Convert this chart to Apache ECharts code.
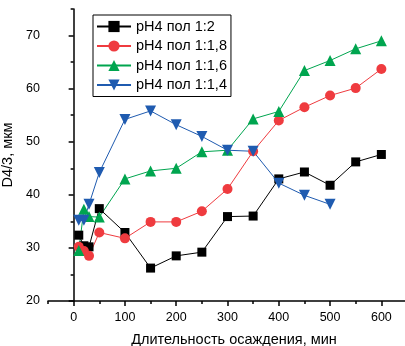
<!DOCTYPE html>
<html>
<head>
<meta charset="utf-8">
<script src="https://cdn.jsdelivr.net/npm/echarts@6/dist/echarts.min.js"></script>
<style>
  html, body { margin: 0; padding: 0; background: #fff; }
  #chart { width: 405px; height: 346px; }
</style>
</head>
<body>
<div id="chart"></div>
<script>
// время осаждения, мин
const times = [10, 20, 30, 50, 100, 150, 200, 250, 300, 350, 400, 450, 500, 550, 600]
const timesBlue = [10, 20, 30, 50, 100, 150, 200, 250, 300, 350, 400, 450, 500]

const ph12 = [32.4, 30.4, 30.2, 37.4, 32.9, 26.2, 28.5, 29.2, 35.9, 36.0, 43.0, 44.3, 41.8, 46.2, 47.6]
const ph118 = [30.2, 29.4, 28.5, 32.9, 31.8, 34.9, 34.9, 36.9, 41.1, 48.2, 54.0, 56.5, 58.7, 60.1, 63.7]
const ph116 = [29.5, 37.3, 35.9, 35.8, 43.0, 44.5, 45.0, 48.1, 48.4, 54.3, 55.7, 63.4, 65.3, 67.5, 69.0]
const ph114 = [35.2, 35.2, 38.2, 44.2, 54.2, 55.8, 53.2, 51.0, 48.4, 48.2, 42.2, 39.9, 38.2]

const xMajor = [0, 100, 200, 300, 400, 500, 600]
const xMinor = [-50, 50, 150, 250, 350, 450, 550, 650]
const yMajor = [20, 30, 40, 50, 60, 70]
const yMinor = [25, 35, 45, 55, 65, 75]

const names = ['pH4 пол 1:2', 'pH4 пол 1:1,8', 'pH4 пол 1:1,6', 'pH4 пол 1:1,4']

const font = 'Liberation Sans, Arial, sans-serif'
const zip = (xs, ys) => xs.map((x, i) => [x, ys[i]])

const chart = echarts.init(document.getElementById('chart'), null, { renderer: 'canvas' })

const xBase = {
  type: 'value', min: -50, max: 650, position: 'bottom', splitLine: { show: false },
}
const yBase = {
  type: 'value', min: 20, max: 75, position: 'left', splitLine: { show: false },
}

const option = {
  animation: false,
  backgroundColor: '#fff',
  textStyle: { fontFamily: font },
  grid: { left: 48, right: -2, top: 9, bottom: 45, outerBoundsMode: 'none', containLabel: false },
  legend: {
    left: 93, top: 15,
    orient: 'vertical',
    itemWidth: 34, itemHeight: 14, itemGap: 4.5,
    padding: [4, 4, 4, 3],
    borderColor: '#000', borderWidth: 1,
    textStyle: { fontSize: 14.5, color: '#000', fontFamily: font },
    data: names,
  },
  xAxis: [
    {
      ...xBase,
      name: 'Длительность осаждения, мин',
      nameLocation: 'middle', nameGap: 31,
      nameTextStyle: { fontSize: 14.5, color: '#000', padding: [0, 0, 0, 13] },
      axisLine: { show: true, lineStyle: { color: '#000', width: 1.5 } },
      axisTick: { show: true, customValues: xMajor, length: 5, lineStyle: { color: '#000', width: 1.5 } },
      axisLabel: { show: true, customValues: xMajor, fontSize: 12.5, color: '#000', margin: 10 },
    },
    {
      ...xBase,
      axisLine: { show: false },
      axisTick: { show: true, customValues: xMinor, length: 3, lineStyle: { color: '#000', width: 1.5 } },
      axisLabel: { show: false },
    },
  ],
  yAxis: [
    {
      ...yBase,
      name: 'D4/3, мкм',
      nameLocation: 'middle', nameGap: 30,
      nameTextStyle: { fontSize: 14.5, color: '#000' },
      axisLine: { show: true, lineStyle: { color: '#000', width: 1.5 } },
      axisTick: { show: true, customValues: yMajor, length: 5, lineStyle: { color: '#000', width: 1.5 } },
      axisLabel: { show: true, customValues: yMajor, fontSize: 12.5, color: '#000', margin: 8 },
    },
    {
      ...yBase,
      axisLine: { show: false },
      axisTick: { show: true, customValues: yMinor, length: 3, lineStyle: { color: '#000', width: 1.5 } },
      axisLabel: { show: false },
    },
  ],
  series: [
    {
      name: names[0], type: 'line', data: zip(times, ph12),
      symbol: 'rect', symbolSize: 9,
      itemStyle: { color: '#000' }, lineStyle: { color: '#000', width: 1 },
    },
    {
      name: names[1], type: 'line', data: zip(times, ph118),
      symbol: 'circle', symbolSize: 10,
      itemStyle: { color: '#EF3B3F' }, lineStyle: { color: '#EF3B3F', width: 1 },
    },
    {
      name: names[2], type: 'line', data: zip(times, ph116),
      symbol: 'triangle', symbolSize: 11,
      itemStyle: { color: '#00A54F' }, lineStyle: { color: '#00A54F', width: 1 },
    },
    {
      name: names[3], type: 'line', data: zip(timesBlue, ph114),
      symbol: 'triangle', symbolRotate: 180, symbolSize: 11,
      itemStyle: { color: '#1F5BB0' }, lineStyle: { color: '#1F5BB0', width: 1 },
    },
  ],
}

chart.setOption(option)
</script>
</body>
</html>
